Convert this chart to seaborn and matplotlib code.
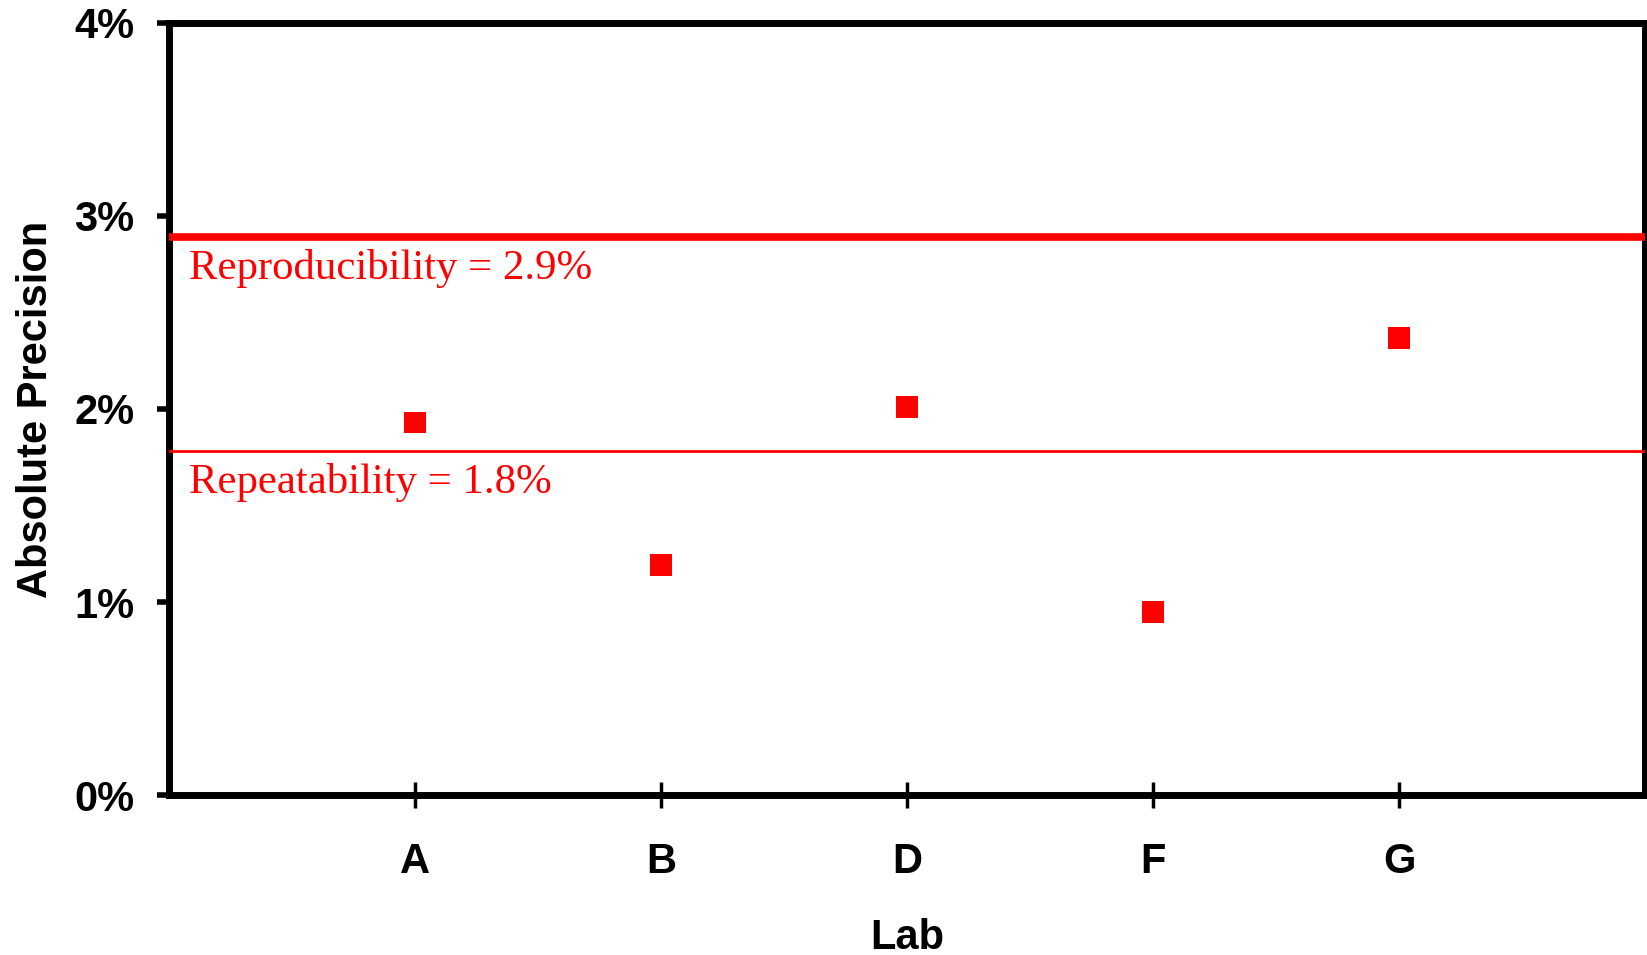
import pandas as pd
import seaborn as sns
import matplotlib.pyplot as plt
from matplotlib.ticker import PercentFormatter

# values (percent)
labs = ["A", "B", "D", "F", "G"]
precision = [1.93, 1.19, 2.01, 0.95, 2.37]
limit_names = ["Reproducibility", "Repeatability"]
limit_values = [2.89, 1.78]
limit_labels = ["Reproducibility = 2.9%", "Repeatability = 1.8%"]
limit_widths = [5.5, 2.0]
y_ticks = [0, 1, 2, 3, 4]

df = pd.DataFrame({"Lab": labs, "Precision": precision})

sns.set_style("white")
plt.rcParams["font.family"] = ["Liberation Sans", "DejaVu Sans"]
plt.rcParams["text.color"] = "black"
plt.rcParams["axes.labelcolor"] = "black"
plt.rcParams["xtick.color"] = "black"
plt.rcParams["ytick.color"] = "black"

fig = plt.figure(figsize=(16.47, 9.55), dpi=100)
ax = fig.add_axes([0.1026, 0.1675, 0.8962, 0.8085])

sns.scatterplot(data=df, x="Lab", y="Precision", marker="s", s=250,
                color="#ff0000", edgecolor="none", ax=ax, zorder=4)

# horizontal limit lines with their labels
for val, text, lw in zip(limit_values, limit_labels, limit_widths):
    ax.axhline(val, color="#ff0000", linewidth=lw, zorder=3)
    ax.text(-0.92, val - 0.06, text, color="#ff0000", fontsize=30.8,
            family=["Liberation Serif", "DejaVu Serif"], va="top", ha="left")

ax.set_xlim(-1, 5)
ax.set_ylim(0, 4)
ax.set_yticks(y_ticks)
ax.yaxis.set_major_formatter(PercentFormatter(decimals=0))

for spine in ax.spines.values():
    spine.set_visible(True)
    spine.set_color("black")
    spine.set_linewidth(5)

ax.tick_params(axis="y", direction="out", length=9, width=4, color="black",
               labelcolor="black", labelsize=30, pad=16, left=True)
ax.tick_params(axis="x", direction="inout", length=19, width=2.5, color="black",
               labelcolor="black", labelsize=30, pad=24, bottom=True)
for lbl in ax.get_xticklabels() + ax.get_yticklabels():
    lbl.set_fontweight("bold")

ax.set_xlabel("Lab", fontsize=30, fontweight="bold", labelpad=26)
ax.set_ylabel("Absolute Precision", fontsize=30, fontweight="bold", labelpad=13)

fig.savefig("out.png", dpi=100, facecolor="white")
